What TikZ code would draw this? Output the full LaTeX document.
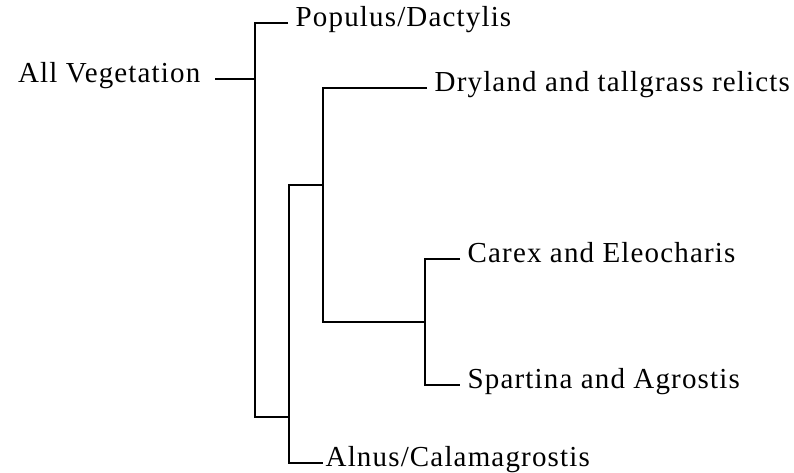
\documentclass[tikz,border=0pt]{standalone}
\usepackage{fontspec}
\setmainfont{Liberation Serif}[LetterSpace=4]

\begin{document}
\begin{tikzpicture}[x=1pt, y=-1pt, line width=1.4pt,
  taxon/.style={anchor=west, inner xsep=7pt, inner ysep=0pt,
    text height=0.66em, text depth=0pt, font=\fontsize{29}{32}\selectfont}]
\useasboundingbox (0,0) rectangle (794,472);

% Cluster names (leaves of the tree)
\node[taxon, anchor=east, inner xsep=14pt] (root) at (215,79) {All Vegetation};
\node[taxon] (pop)   at (288,23)  {Populus/Dactylis};
\node[taxon] (dry)   at (427,88)  {Dryland and tallgrass relicts};
\node[taxon] (carex) at (460,259) {Carex and Eleocharis};
\node[taxon] (spart) at (460,385) {Spartina and Agrostis};
\node[taxon, inner xsep=2pt] (alnus) at (323,463) {Alnus/Calamagrostis};

% Joining points
\coordinate (r)  at (255,79);   % root split
\coordinate (m)  at (289,417);  % lower split
\coordinate (b)  at (289,185);  % top of lower bracket
\coordinate (c1) at (323,185);  % wet/dry split
\coordinate (c2) at (425,322);  % Carex/Spartina split

% Brackets
\draw (root.east) -- (r);
\draw (pop.west) -| (r) |- (m);
\draw (c1) -- (b) |- (alnus.west);
\draw (dry.west) -| (c1) |- (c2);
\draw (carex.west) -| (c2) |- (spart.west);
\end{tikzpicture}
\end{document}
